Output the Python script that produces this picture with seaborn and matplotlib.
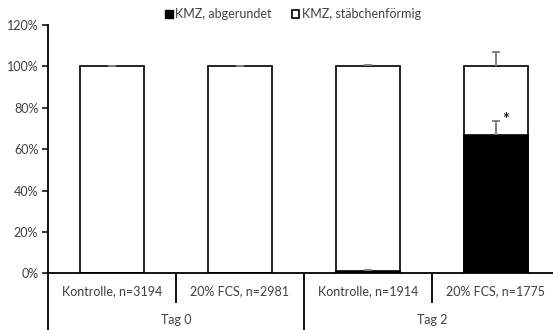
import matplotlib
matplotlib.use("Agg")
import matplotlib.pyplot as plt
from matplotlib.patches import Patch
from matplotlib.ticker import FuncFormatter
import matplotlib.transforms as mtransforms
import seaborn as sns
import pandas as pd

# Data (percent of cardiomyocytes per morphology)
categories = ["Kontrolle, n=3194", "20% FCS, n=2981", "Kontrolle, n=1914", "20% FCS, n=1775"]
groups = ["Tag 0", "Tag 2"]
abgerundet = [0.0, 0.0, 1.0, 67.0]
staebchen = [100.0, 100.0, 99.0, 33.0]
err_abgerundet = [0.0, 0.0, 0.5, 6.7]
err_staebchen = [0.3, 0.3, 0.8, 6.8]
significant = [False, False, False, True]

series_names = ["KMZ, abgerundet", "KMZ, stäbchenförmig"]

sns.set_style("white")
plt.rcParams["font.family"] = ["Lato", "DejaVu Sans"]
text_color = "#404040"
fs = 9

total = [a + s for a, s in zip(abgerundet, staebchen)]
df = pd.DataFrame({"cat": categories, "abgerundet": abgerundet, "total": total})

W, H = 553, 330
fig = plt.figure(figsize=(W / 100, H / 100), dpi=100)
left_px, right_px, top_px, bottom_px = 48, 553, 24.9, 273.3
ax = fig.add_axes([left_px / W, 1 - bottom_px / H, (right_px - left_px) / W, (bottom_px - top_px) / H])

# Stacked bars: full height in white, lower segment in black on top
sns.barplot(data=df, x="cat", y="total", color="white", edgecolor="black",
            linewidth=1.2, width=0.5, errorbar=None, ax=ax, zorder=2)
sns.barplot(data=df, x="cat", y="abgerundet", color="black", edgecolor="black",
            linewidth=1.2, width=0.5, errorbar=None, ax=ax, zorder=3)
for p in ax.patches:
    p.set_alpha(1)

# Plus-only error bars for each stacked segment (skipped where the error is zero)
xs = list(range(len(categories)))
for base, err in [(abgerundet, err_abgerundet), (total, err_staebchen)]:
    idx = [i for i, e in enumerate(err) if e > 0]
    _, caps, _ = ax.errorbar([xs[i] for i in idx], [base[i] for i in idx],
                             yerr=[[0] * len(idx), [err[i] for i in idx]], fmt="none",
                             ecolor="#7f7f7f", elinewidth=1.4, capsize=3.2,
                             capthick=1.4, zorder=4)
    caps[0].set_visible(False)

for x, a, e, sig in zip(xs, abgerundet, err_abgerundet, significant):
    if sig:
        ax.text(x + 0.075, a + e + 0.3, "*", ha="center", va="center",
                fontsize=12, fontweight="bold", color="#202020", zorder=5)

ax.set_ylim(0, 120)
ax.set_xlim(-0.5, -0.5 + (right_px - left_px) / 128)
ax.set_yticks(range(0, 121, 20))
ax.yaxis.set_major_formatter(FuncFormatter(lambda v, _: f"{v:.0f}%"))
ax.tick_params(axis="y", direction="out", length=4, width=1.1, color="black",
               labelsize=fs, labelcolor=text_color, pad=3, left=True)
ax.tick_params(axis="x", bottom=False, labelbottom=False)
ax.set_xlabel("")
ax.set_ylabel("")
for side in ["top", "right"]:
    ax.spines[side].set_visible(False)
for side in ["left", "bottom"]:
    ax.spines[side].set_color("black")
    ax.spines[side].set_linewidth(1.3)
ax.grid(False)

# Two-level category axis below the plot
trans = mtransforms.blended_transform_factory(ax.transData, ax.transAxes)
ax_h = bottom_px - top_px
y_cat = -(291.5 - bottom_px) / ax_h
y_grp = -(320.5 - bottom_px) / ax_h
y_cat_line = -(302.5 - bottom_px) / ax_h
y_grp_line = -(H - bottom_px + 2) / ax_h
for x, lab in zip(xs, categories):
    ax.text(x, y_cat, lab, transform=trans, ha="center", va="center",
            fontsize=fs, color=text_color, clip_on=False)
for g, lab in enumerate(groups):
    ax.text(2 * g + 0.5, y_grp, lab, transform=trans, ha="center", va="center",
            fontsize=fs, color=text_color, clip_on=False)
for xb in [0.5, 2.5]:
    ax.plot([xb, xb], [0, y_cat_line], transform=trans, color="black", lw=1.3,
            clip_on=False, solid_capstyle="butt")
for xb in [-0.5, 1.5, 3.5]:
    ax.plot([xb, xb], [0, y_grp_line], transform=trans, color="black", lw=1.3,
            clip_on=False, solid_capstyle="butt")

handles = [Patch(facecolor="black", edgecolor="black", label=series_names[0]),
           Patch(facecolor="white", edgecolor="black", linewidth=1.2, label=series_names[1])]
fig.legend(handles=handles, loc="center", bbox_to_anchor=(0.53, 1 - 14 / H), ncol=2,
           frameon=False, fontsize=fs, handlelength=0.6, handleheight=0.6,
           handletextpad=0.2, columnspacing=1.6, labelcolor=text_color, borderaxespad=0)

fig.savefig("out.png", dpi=100)
